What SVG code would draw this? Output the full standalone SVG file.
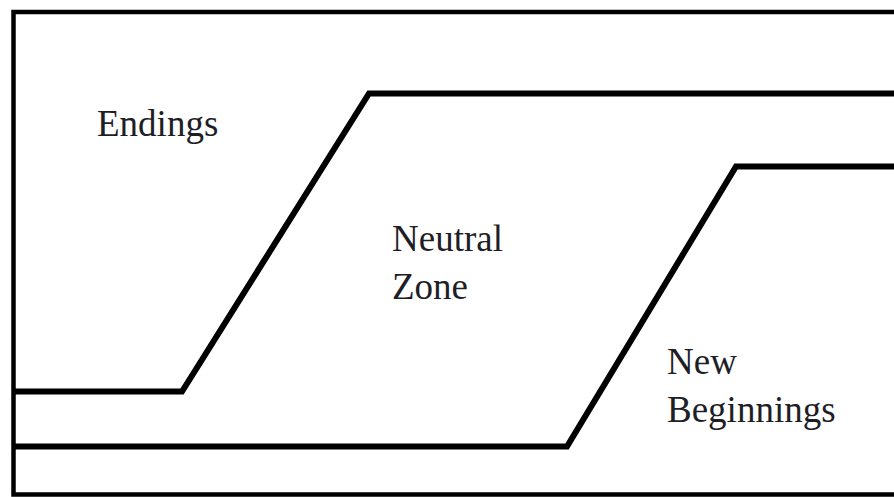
<svg xmlns="http://www.w3.org/2000/svg" width="894" height="497" viewBox="0 0 894 497">
<style>
.line{fill:none;stroke:#000;stroke-width:6;stroke-linejoin:miter}
.lbl{font-family:"Liberation Serif","Times New Roman",serif;font-size:37px;fill:#1e1e26}
</style>
<rect width="894" height="497" fill="#fff"/>
<g id="frame"><rect x="13.5" y="12" width="890" height="482.5" fill="none" stroke="#000" stroke-width="4.5"/></g>
<g id="connectors">
<polyline class="line" points="13,391.5 182,391.5 369,93.5 900,93.5"/>
<polyline class="line" points="13,446.5 567,446.5 736,166.5 900,166.5"/>
</g>
<g id="endings"><text class="lbl" x="97" y="136">Endings</text></g>
<g id="neutral"><text class="lbl" x="392" y="251">Neutral</text><text class="lbl" x="392" y="299">Zone</text></g>
<g id="new"><text class="lbl" x="667" y="374">New</text><text class="lbl" x="667" y="422">Beginnings</text></g>
</svg>
